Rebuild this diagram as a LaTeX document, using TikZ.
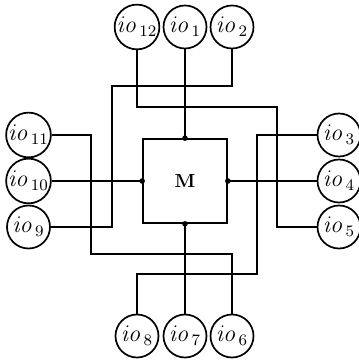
\documentclass[tikz,border=0pt]{standalone}
\begin{document}
\begin{tikzpicture}[x=0.5pt,y=-0.5pt,
  wire/.style={line width=0.85pt},
  io/.style={circle,draw,line width=0.85pt,minimum size=21.5pt,inner sep=0pt,
    font=\fontsize{12}{13}\selectfont},
  mbox/.style={draw,line width=0.85pt,minimum width=42pt,minimum height=42pt,inner sep=0pt,
    font=\fontsize{9.5}{11}\selectfont\bfseries},
  jdot/.style={fill,circle,inner sep=0pt,minimum size=2.8pt}]
\useasboundingbox (0,0) rectangle (358,362);
% box
\node[mbox] (M) at (185,181) {M};
% top
\node[io] (io12) at (137,27) {$\mathit{io}_{\mkern2mu 12}$};
\node[io] (io1)  at (185,27) {$\mathit{io}_{\mkern2mu 1}$};
\node[io] (io2)  at (232,27) {$\mathit{io}_{\mkern2mu 2}$};
% bottom
\node[io] (io8) at (137,336) {$\mathit{io}_{\mkern2mu 8}$};
\node[io] (io7) at (185,336) {$\mathit{io}_{\mkern2mu 7}$};
\node[io] (io6) at (232,336) {$\mathit{io}_{\mkern2mu 6}$};
% left
\node[io] (io11) at (28.5,135) {$\mathit{io}_{\mkern2mu 11}$};
\node[io] (io10) at (28.5,181) {$\mathit{io}_{\mkern2mu 10}$};
\node[io] (io9)  at (28.5,227) {$\mathit{io}_{\mkern2mu 9}$};
% right
\node[io] (io3) at (339,135) {$\mathit{io}_{\mkern2mu 3}$};
\node[io] (io4) at (339,181) {$\mathit{io}_{\mkern2mu 4}$};
\node[io] (io5) at (339,227) {$\mathit{io}_{\mkern2mu 5}$};
% straight connections
\draw[wire] (io1.south) -- (M.north);
\draw[wire] (M.south) -- (io7.north);
\draw[wire] (io10.east) -- (M.west);
\draw[wire] (M.east) -- (io4.west);
% crossing connections
\draw[wire] (io2.south) |- (112,86) |- (io9.east);
\draw[wire] (io12.south) |- (277,107) |- (io5.west);
\draw[wire] (io11.east) -| (91,254) -| (io6.north);
\draw[wire] (io3.west) -| (257,274) -| (io8.north);
% junction dots
\node[jdot] (dn) at (M.north) {};
\node[jdot] (ds) at (M.south) {};
\node[jdot] (dw) at (M.west) {};
\node[jdot] (de) at (M.east) {};
\end{tikzpicture}
\end{document}
